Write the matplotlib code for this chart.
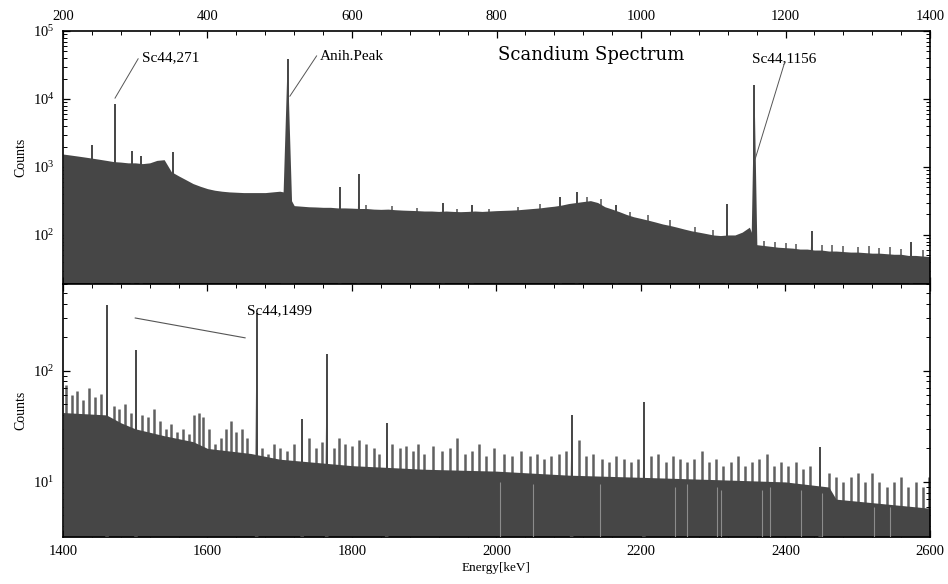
"""Scandium gamma spectrum, two stacked log panels"""
import matplotlib; matplotlib.use('Agg')
import matplotlib.pyplot as plt
from matplotlib.ticker import MultipleLocator, LogLocator, NullFormatter
import numpy as np

plt.rcParams['font.family'] = ['Liberation Serif', 'DejaVu Serif']
plt.rcParams['mathtext.fontset'] = 'stix'

# ---- upper panel (200-1400 keV) ----
hi_energy = list(range(200, 1401, 10))
hi_counts = [
    1550, 1500, 1450, 1400, 1350, 1300, 1250, 1200, 1180, 1150,   # 200-290
    1150, 1120, 1150, 1250, 1280, 850, 740, 650, 570, 520,         # 300-390
    480, 455, 440, 430, 425, 420, 420, 420, 420, 430,              # 400-490
    440, 420, 270, 265, 260, 258, 255, 255, 250, 250,              # 500-590
    248, 245, 245, 240, 238, 240, 235, 232, 230, 228,              # 600-690
    225, 225, 222, 225, 222, 220, 222, 225, 222, 225,              # 700-790
    228, 230, 232, 235, 240, 245, 250, 258, 265, 275,              # 800-890
    290, 300, 310, 320, 300, 260, 240, 220, 200, 185,              # 900-990
    175, 165, 155, 145, 138, 130, 122, 115, 110, 105,              # 1000-1090
    100, 98, 100, 100, 110, 130, 72, 70, 68, 66,                   # 1100-1190
    65, 64, 62, 62, 60, 60, 58, 58, 57, 56,                        # 1200-1290
    56, 55, 54, 54, 53, 52, 52, 50, 50, 49,                        # 1300-1390
    48,                                                            # 1400
]
hi_peak_e = [240, 272, 296, 308, 352, 511, 583, 609, 726, 766, 888, 911, 966, 1119, 1157, 1236, 1374]
hi_peak_h = [2100, 8300, 1700, 1450, 1650, 39000, 500, 790, 300, 280, 360, 430, 280, 286, 16000, 115, 80]
hi_noise_e = [620, 655, 690, 745, 790, 830, 860, 925, 945, 985, 1010, 1040, 1075, 1100,
              1170, 1185, 1200, 1215, 1250, 1265, 1280, 1300, 1315, 1330, 1345, 1360, 1390]
hi_noise_h = [275, 265, 250, 245, 245, 262, 285, 360, 335, 215, 195, 165, 132, 118,
              82, 80, 76, 74, 72, 70, 68, 66, 68, 64, 66, 62, 60]

# ---- lower panel (1400-2600 keV) ----
lo_energy = [1400, 1460, 1480, 1500, 1540, 1580, 1600, 1660, 1700, 1800, 1900,
             2000, 2100, 2200, 2300, 2400, 2460, 2470, 2600]
lo_counts = [42, 40, 34, 30, 26, 23, 20, 18, 16, 14, 13,
             12.5, 11.5, 11, 10.5, 10, 9, 7, 5.8]
lo_noise_e = [1404, 1412, 1420, 1428, 1436, 1444, 1452, 1470, 1478, 1486, 1494, 1510, 1518,
              1526, 1534, 1542, 1550, 1558, 1566, 1574, 1582, 1588, 1594, 1602, 1610, 1618,
              1626, 1632, 1640, 1648, 1654, 1676, 1684, 1692, 1700, 1710, 1720, 1740, 1750,
              1758, 1775, 1782, 1790, 1800, 1810, 1820, 1830, 1838, 1856, 1866, 1875, 1884,
              1892, 1900, 1912, 1924, 1936, 1946, 1956, 1966, 1976, 1986, 1996, 2010, 2022,
              2034, 2046, 2056, 2066, 2076, 2086, 2096, 2114, 2124, 2134, 2146, 2156, 2166,
              2176, 2186, 2196, 2214, 2224, 2234, 2244, 2254, 2264, 2274, 2284, 2294, 2304,
              2314, 2324, 2334, 2344, 2354, 2364, 2374, 2384, 2394, 2404, 2414, 2424, 2434,
              2460, 2470, 2480, 2490, 2500, 2510, 2520, 2530, 2540, 2550, 2560, 2570, 2580,
              2590, 2598]
lo_noise_h = [75, 60, 65, 55, 70, 58, 62, 48, 45, 50, 42, 40, 38,
              45, 35, 30, 33, 28, 30, 27, 40, 42, 38, 30, 22, 25,
              30, 35, 28, 30, 25, 20, 18, 22, 20, 19, 22, 25, 20,
              23, 20, 25, 22, 21, 24, 22, 20, 18, 22, 20, 21, 19,
              22, 18, 21, 19, 20, 25, 18, 19, 22, 17, 20, 18, 17,
              19, 17, 18, 16, 17, 18, 19, 24, 17, 18, 16, 15, 17,
              16, 15, 16, 17, 18, 15, 17, 16, 15, 16, 19, 15, 16,
              14, 15, 17, 14, 15, 16, 18, 14, 15, 14, 15, 13, 14,
              12, 11, 10, 11, 12, 10, 12, 10, 9, 10, 11, 9, 10,
              9, 11]
# pale streaks inside the filled region
lo_gap_e = [2005, 2050, 2143, 2247, 2263, 2305, 2311, 2368, 2378, 2422, 2451, 2523, 2544]
lo_gap_h = [10, 9.5, 9.5, 9, 9.5, 9, 8.5, 8.5, 9, 8.5, 8, 6, 6]
lo_peak_e = [1461, 1501, 1668, 1731, 1765, 1848, 2104, 2204, 2448]
lo_peak_h = [388, 154, 330, 36.5, 142, 34, 40, 52, 20.6]

DARK = '#464646'
NOISE = '#606060'
W, H = 948, 584
fig = plt.figure(figsize=(W/100, H/100), dpi=100)
ax1 = fig.add_axes([63/W, 1-284/H, 867/W, 253/H])
ax2 = fig.add_axes([63/W, 1-537/H, 867/W, 253/H])

def draw_peaks(ax, es, hs, ymin, wide):
    for e, h in zip(es, hs):
        w = wide.get(e, 2.5)
        ax.fill([e-w, e, e+w], [ymin, h, ymin], color=DARK, lw=0, zorder=4)
        ax.vlines(e, ymin, h, color=DARK, lw=1.4, zorder=4)

# upper panel
y1min, y1max = 19, 1e5
ax1.vlines(hi_noise_e, y1min, hi_noise_h, color=NOISE, lw=1.2, zorder=1)
ax1.fill_between(hi_energy, y1min, hi_counts, color=DARK, lw=0, zorder=2)
draw_peaks(ax1, hi_peak_e, hi_peak_h, y1min, {511: 9.5, 1157: 5.0})
ax1.set_yscale('log')
ax1.set_xlim(200, 1400); ax1.set_ylim(y1min, y1max)
ax1.xaxis.set_major_locator(MultipleLocator(200)); ax1.xaxis.set_minor_locator(MultipleLocator(40))
ax1.tick_params(axis='x', which='both', top=True, bottom=True, labeltop=True, labelbottom=False,
                direction='in')
ax1.set_ylabel('Counts', fontsize=10, labelpad=4)
ax1.text(0.609, 0.905, 'Scandium Spectrum', transform=ax1.transAxes, fontsize=13,
         ha='center', va='center', family='DejaVu Serif')

# lower panel
y2min, y2max = 3.2, 600
ax2.vlines(lo_noise_e, y2min, lo_noise_h, color=NOISE, lw=1.8, zorder=1)
ax2.fill_between(lo_energy, y2min, lo_counts, color=DARK, lw=0, zorder=2)
ax2.vlines(lo_gap_e, y2min, lo_gap_h, color='#8c8c8c', lw=0.8, zorder=3)
draw_peaks(ax2, lo_peak_e, lo_peak_h, y2min, {})
ax2.set_yscale('log')
ax2.set_xlim(1400, 2600); ax2.set_ylim(y2min, y2max)
ax2.xaxis.set_major_locator(MultipleLocator(200)); ax2.xaxis.set_minor_locator(MultipleLocator(40))
ax2.tick_params(axis='x', which='both', top=True, bottom=True, direction='in')
ax2.set_ylabel('Counts', fontsize=10, labelpad=4)
ax2.set_xlabel('Energy[keV]', fontsize=9.5, labelpad=3)

for ax in (ax1, ax2):
    ax.yaxis.set_major_locator(LogLocator(base=10))
    ax.yaxis.set_minor_locator(LogLocator(base=10, subs=np.arange(2, 10)))
    ax.yaxis.set_minor_formatter(NullFormatter())
    ax.tick_params(axis='y', which='both', left=True, right=True, direction='in')
    ax.tick_params(which='major', length=5, width=0.9, labelsize=10.5, pad=6)
    ax.tick_params(which='minor', length=3, width=0.7)
    for s in ax.spines.values():
        s.set_linewidth(1.2)

# annotations
ax1.plot([272, 304], [10300, 39000], color='#555555', lw=0.7, zorder=5)
ax1.text(309, 40000, 'Sc44,271', fontsize=11, va='center', ha='left')
ax1.plot([514, 551], [11000, 43000], color='#555555', lw=0.7, zorder=5)
ax1.text(556, 42000, 'Anih.Peak', fontsize=11, va='center', ha='left')
ax1.plot([1158, 1199], [1310, 35000], color='#555555', lw=0.7, zorder=5)
ax1.text(1154, 39000, 'Sc44,1156', fontsize=11, va='center', ha='left')
ax2.plot([1500, 1652], [297, 197], color='#555555', lw=0.8, zorder=5)
ax2.text(1655, 345, 'Sc44,1499', fontsize=11, va='center', ha='left', zorder=6)

plt.savefig('out.png', dpi=100, facecolor='white')
